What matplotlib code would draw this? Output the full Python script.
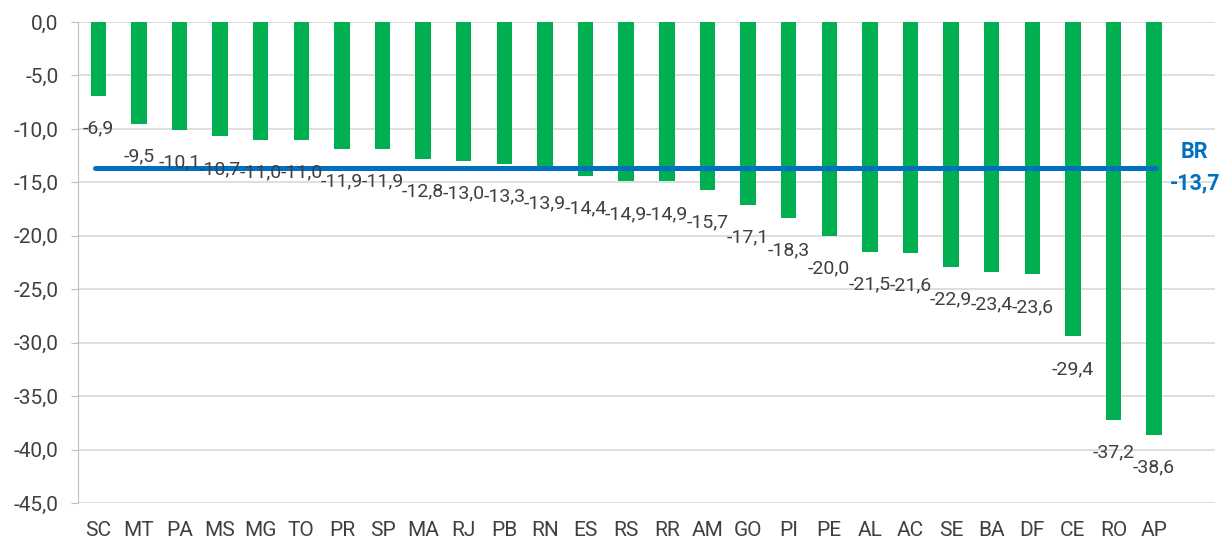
import matplotlib.pyplot as plt
import numpy as np

plt.rcParams['font.family'] = ['Roboto', 'DejaVu Sans']

states = ["SC", "MT", "PA", "MS", "MG", "TO", "PR", "SP", "MA", "RJ", "PB", "RN", "ES", "RS",
          "RR", "AM", "GO", "PI", "PE", "AL", "AC", "SE", "BA", "DF", "CE", "RO", "AP"]
values = [-6.9, -9.5, -10.1, -10.7, -11.0, -11.0, -11.9, -11.9, -12.8, -13.0, -13.3, -13.9, -14.4, -14.9,
          -14.9, -15.7, -17.1, -18.3, -20.0, -21.5, -21.6, -22.9, -23.4, -23.6, -29.4, -37.2, -38.6]
br_value = -13.7

green = "#00B050"
blue = "#0070C0"
gray_text = "#404040"

fig = plt.figure(figsize=(12.22, 5.41), dpi=100)
ax = fig.add_axes([0.0638, 0.0702, 0.9305, 0.8891])

x = np.arange(len(states))
ax.bar(x, values, width=0.38, color=green, zorder=2)

# national average line
ax.plot([x[0] - 0.08, x[-1] + 0.05], [br_value, br_value], color=blue, lw=3.6,
        solid_capstyle="round", zorder=3)

for xi, v in zip(x, values):
    ax.annotate(f"{v:.1f}".replace(".", ","), (xi, v), xytext=(0, -23.5),
                textcoords="offset points", ha="center", va="center",
                fontsize=14, color=gray_text, zorder=4)

ax.text(len(states), br_value + 1.55, "BR", ha="center", va="center", fontsize=15.5,
        fontweight="bold", color=blue)
ax.text(len(states), br_value - 1.35, f"{br_value:.1f}".replace(".", ","), ha="center",
        va="center", fontsize=15.5, fontweight="bold", color=blue)

ax.set_xlim(-0.5, len(states) + 0.5)
ax.set_ylim(-45, 0)
ax.set_yticks(np.arange(-45, 1, 5))
ax.set_yticklabels([f"{t:.1f}".replace(".", ",") for t in np.arange(-45, 1, 5)])
ax.set_xticks(x)
ax.set_xticklabels(states)
ax.tick_params(axis="x", length=0, pad=13, labelsize=15, labelcolor=gray_text)
ax.tick_params(axis="y", length=5, pad=9, color="#BFBFBF", labelsize=15, labelcolor=gray_text)

ax.grid(axis="y", color="#D9D9D9", lw=1.2, zorder=0)
ax.set_axisbelow(True)
for s in ["top", "right", "bottom"]:
    ax.spines[s].set_visible(False)
ax.spines["left"].set_color("#BFBFBF")

fig.savefig("out.png", dpi=100)
